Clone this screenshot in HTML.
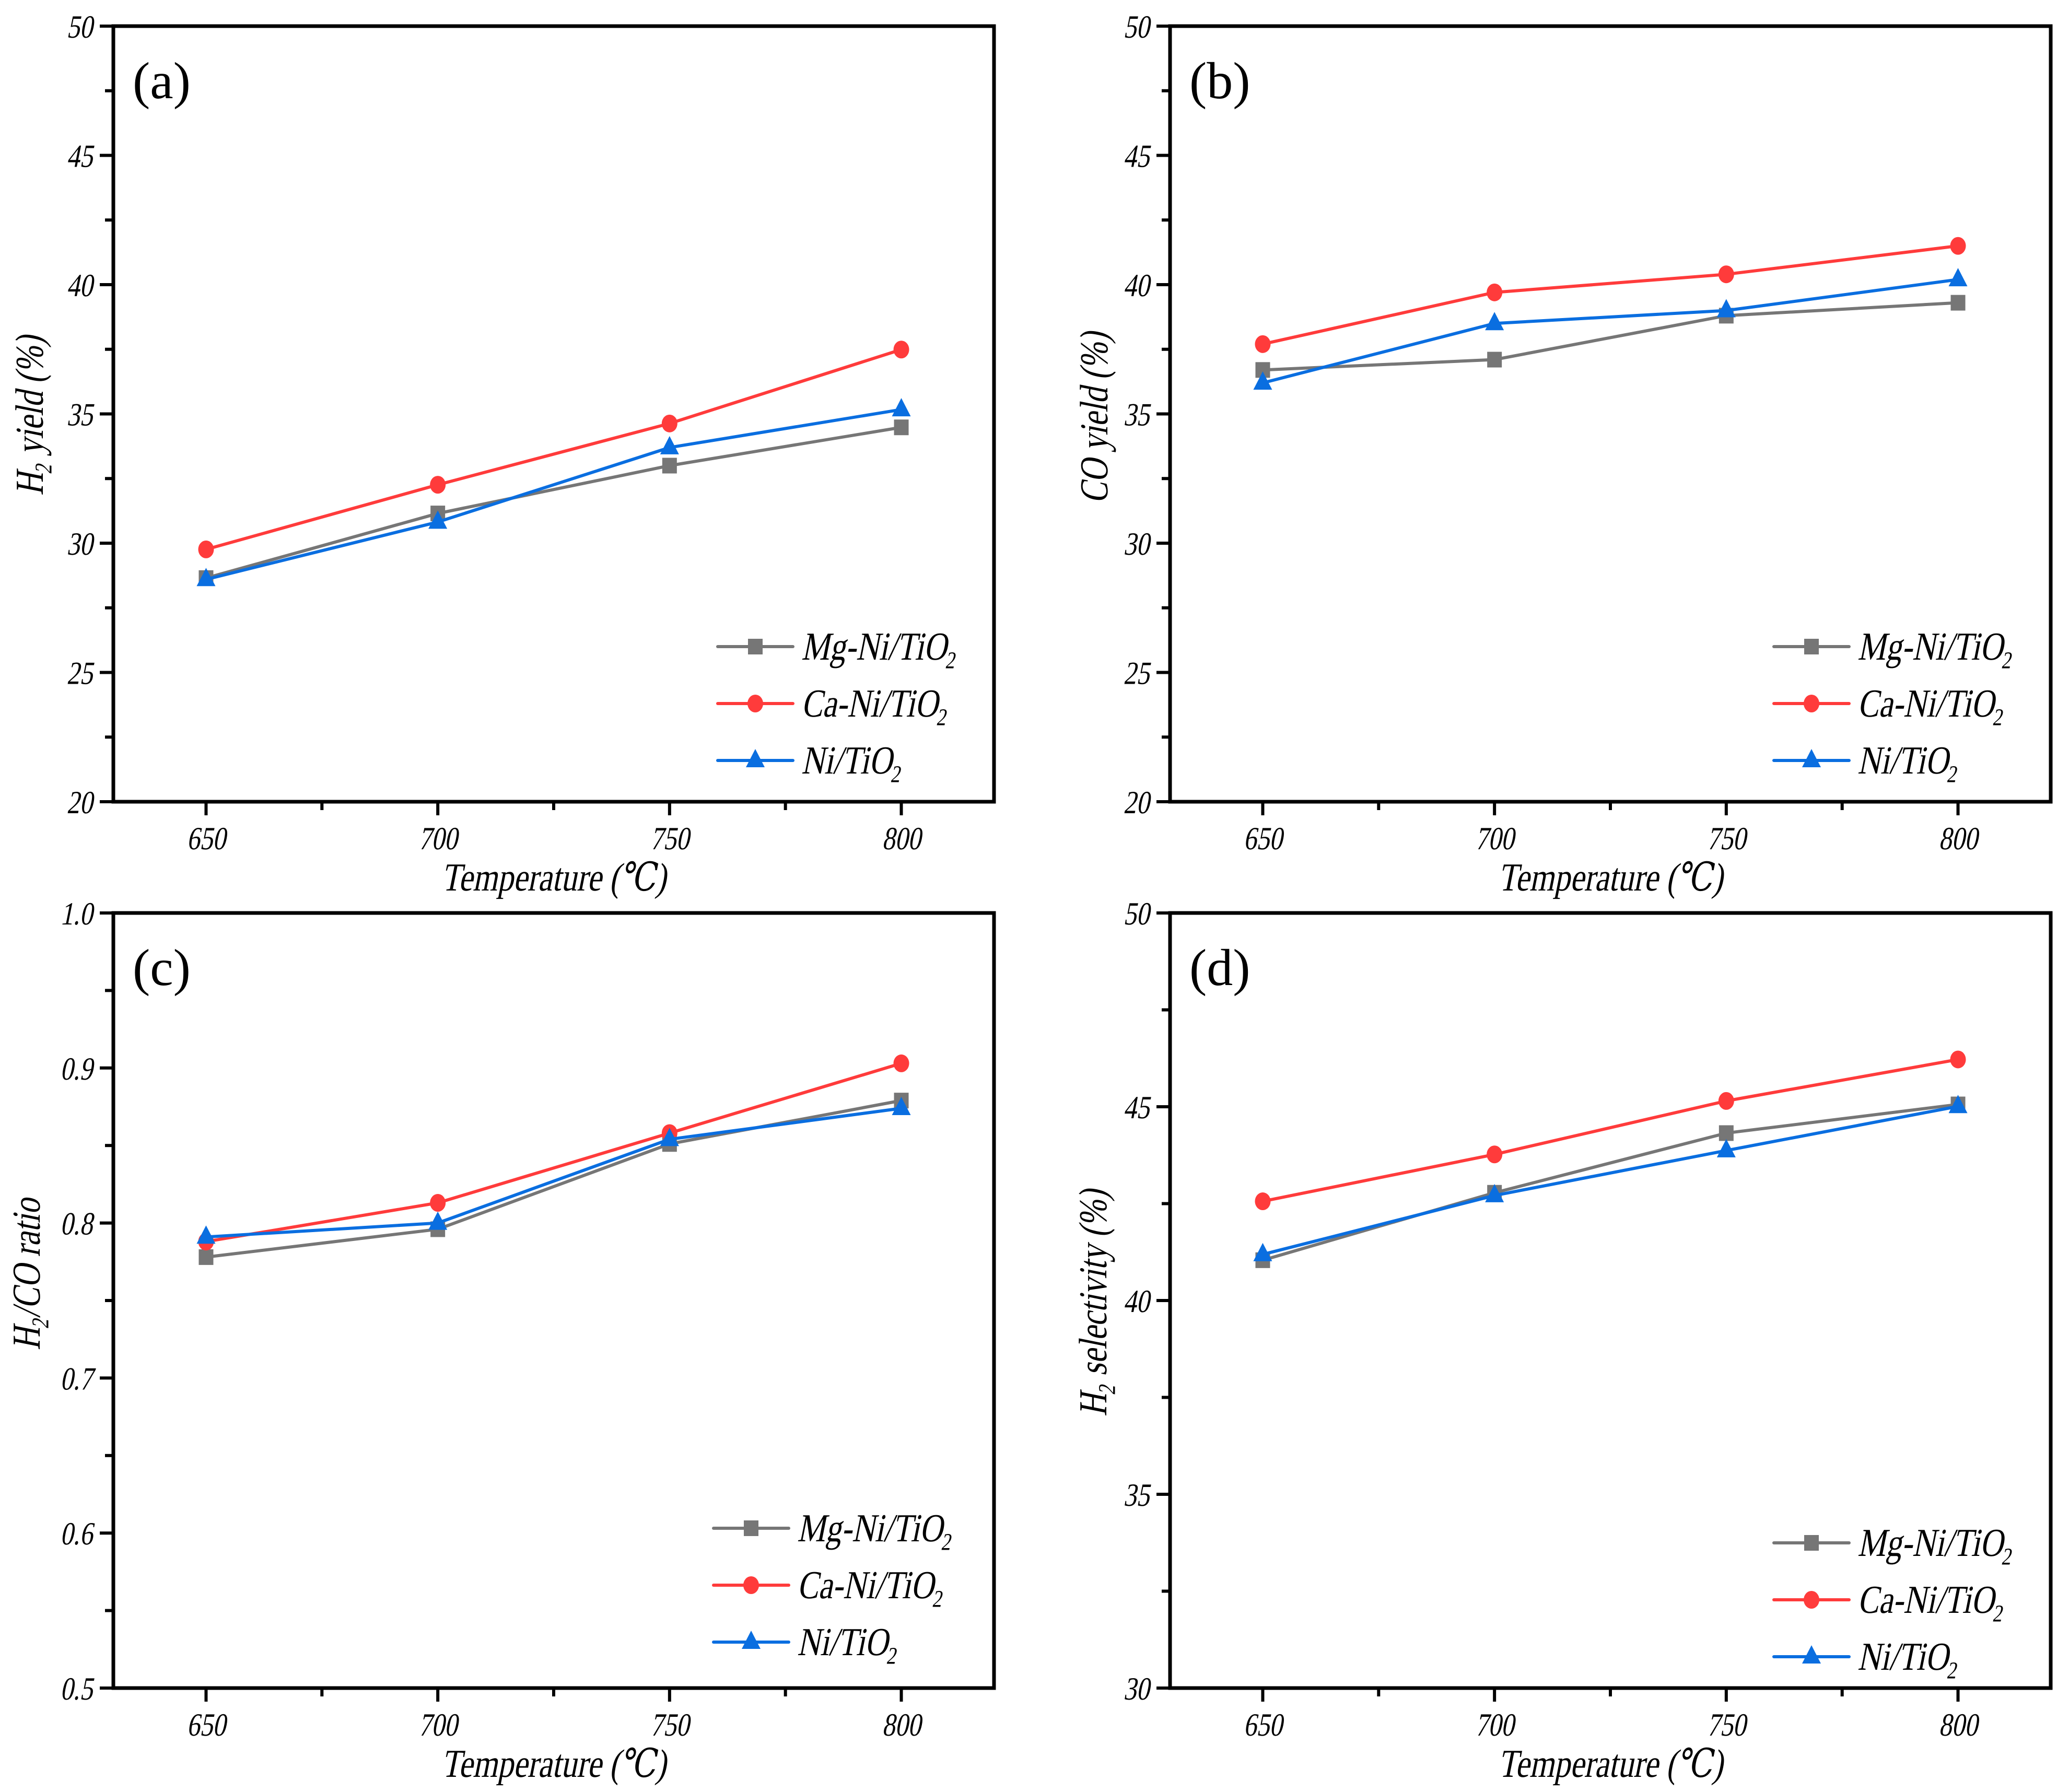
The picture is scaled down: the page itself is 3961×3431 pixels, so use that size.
<!DOCTYPE html>
<html><head><meta charset="utf-8"><style>
html,body{margin:0;padding:0;background:#fff}
svg{display:block}
text{font-family:"Liberation Serif","DejaVu Serif",serif}
</style></head><body>
<svg id="fig" xmlns="http://www.w3.org/2000/svg" width="3961" height="3431" viewBox="0 0 3961 3431">
<rect width="3961" height="3431" fill="#fff"/>
</svg>
<script>
const temps = [650, 700, 750, 800];
const seriesNames = ["Mg-Ni/TiO", "Ca-Ni/TiO", "Ni/TiO"];
const h2YieldMg = [28.65, 31.15, 33.0, 34.48];
const h2YieldCa = [29.76, 32.26, 34.63, 37.49];
const h2YieldNi = [28.6, 30.82, 33.7, 35.17];
const coYieldMg = [36.7, 37.1, 38.8, 39.3];
const coYieldCa = [37.7, 39.7, 40.4, 41.5];
const coYieldNi = [36.2, 38.5, 39.0, 40.2];
const ratioMg = [0.778, 0.796, 0.851, 0.879];
const ratioCa = [0.788, 0.813, 0.858, 0.903];
const ratioNi = [0.791, 0.800, 0.854, 0.874];
const selMg = [41.04, 42.78, 44.32, 45.06];
const selCa = [42.56, 43.77, 45.15, 46.22];
const selNi = [41.19, 42.71, 43.87, 45.01];
const xTicks = [650, 700, 750, 800];
const yTicksYield = [20, 25, 30, 35, 40, 45, 50];
const yTicksRatio = [0.5, 0.6, 0.7, 0.8, 0.9, 1.0];
const yTicksSel = [30, 35, 40, 45, 50];

const NS = "http://www.w3.org/2000/svg";
const svg = document.getElementById("fig");
const COLORS = ["#767676", "#ff3b3b", "#0a6ee0"];
const SX = 0.8;

function el(tag, attrs, parent) {
  const e = document.createElementNS(NS, tag);
  for (const k in attrs) e.setAttribute(k, attrs[k]);
  (parent || svg).appendChild(e);
  return e;
}
function label(parent, x, y, str, size, anchor, rot, italic, sub, sx) {
  const it = italic !== false;
  const t = el("text", {
    transform: "translate(" + x + "," + y + ")" + (rot ? " rotate(-90)" : "") + " scale(" + (sx || SX) + ",1)" + (it ? " skewX(-14)" : ""),
    "font-size": size, "text-anchor": anchor || "start",
    "font-style": "normal", fill: "#000"
  }, parent);
  if (sub) {
    const parts = str.split("\u2082");
    t.appendChild(document.createTextNode(parts[0]));
    for (let i = 1; i < parts.length; i++) {
      const s = el("tspan", {"font-size": Math.round(size * 0.6), dy: size * 0.22}, t);
      s.textContent = "2";
      const r = el("tspan", {dy: -size * 0.22}, t);
      r.textContent = parts[i];
    }
  } else t.textContent = str;
  return t;
}

function panel(cfg) {
  const g = el("g", {});
  
  
  const L = cfg.left, R = cfg.right, T = cfg.top, B = cfg.bottom;
  const xs = v => L + (v - 630) / (820 - 630) * (R - L);
  const ys = v => B - (v - cfg.ymin) / (cfg.ymax - cfg.ymin) * (B - T);
  const ax = el("g", {stroke: "#000", "stroke-width": 6}, g);
  
  
  xTicks.forEach(v => {
    el("line", {x1: xs(v), x2: xs(v), y1: B, y2: B + 26}, ax);
    label(g, xs(v), B + 91, String(v), 62, "middle");
  });
  [675, 725, 775].forEach(v => el("line", {x1: xs(v), x2: xs(v), y1: B, y2: B + 16}, ax));
  const yt = cfg.yticks;
  yt.forEach((v, i) => {
    el("line", {x1: L - 26, x2: L, y1: ys(v), y2: ys(v)}, ax);
    label(g, L - 40, ys(v) + 22, cfg.fmt(v), 62, "end");
    if (i < yt.length - 1) {
      const m = (v + yt[i + 1]) / 2;
      el("line", {x1: L - 16, x2: L, y1: ys(m), y2: ys(m)}, ax);
    }
  });
  el("rect", {x: L, y: T, width: R - L, height: B - T, fill: "none", stroke: "#000", "stroke-width": 7}, g);
  const xt = label(g, (L + R) / 2, B + 170, "Temperature (\u2103)", 76, "middle");
  
  
  const ytl = label(g, cfg.ytx, cfg.ytc, cfg.ytitle, 76, "middle", true, true, true);
  
  
  const pl = label(g, L + 37, T + 138, cfg.tag, 100, "start", false, false, false, 1);
  
  
  cfg.data.forEach((arr, si) => {
    const sg = el("g", {}, g);
    
    
    el("polyline", {points: arr.map((v, i) => xs(temps[i]) + "," + ys(v)).join(" "),
      fill: "none", stroke: COLORS[si], "stroke-width": 6, "stroke-linejoin": "round"}, sg);
    arr.forEach((v, i) => marker(sg, si, xs(temps[i]), ys(v)));
  });
  const lg = el("g", {}, g);
  
  
  seriesNames.forEach((n, si) => {
    const y = cfg.legY + si * 109;
    const lx = cfg.legX;
    el("line", {x1: lx, x2: lx + 144, y1: y, y2: y, stroke: COLORS[si], "stroke-width": 6, "stroke-linecap": "round"}, lg);
    marker(lg, si, lx + 72, y);
    label(lg, lx + 160, y + 25, n + "\u2082", 76, "start", false, true, true);
  });
}
function marker(parent, si, x, y) {
  let m;
  if (si === 0) m = el("rect", {x: x - 14, y: y - 15, width: 28, height: 30, fill: COLORS[0]}, parent);
  else if (si === 1) m = el("ellipse", {cx: x, cy: y, rx: 15, ry: 17, fill: COLORS[1]}, parent);
  else m = el("polygon", {points: (x) + "," + (y - 22) + " " + (x + 18) + "," + (y + 13) + " " + (x - 18) + "," + (y + 13), fill: COLORS[2]}, parent);
  
  
}
const f0 = v => String(v);
const f1 = v => v.toFixed(1);
panel({name: "panel-a-h2-yield", tag: "(a)", left: 217, right: 1903, top: 50, bottom: 1535, ymin: 20, ymax: 50,
  yticks: yTicksYield, fmt: f0, ytitle: "H\u2082 yield (%)", ytx: 82, ytc: 796, legX: 1374, legY: 1238,
  data: [h2YieldMg, h2YieldCa, h2YieldNi]});
panel({name: "panel-b-co-yield", tag: "(b)", left: 2240, right: 3926, top: 50, bottom: 1535, ymin: 20, ymax: 50,
  yticks: yTicksYield, fmt: f0, ytitle: "CO yield (%)", ytx: 2120, ytc: 800, legX: 3396, legY: 1238,
  data: [coYieldMg, coYieldCa, coYieldNi]});
panel({name: "panel-c-ratio", tag: "(c)", left: 217, right: 1903, top: 1748, bottom: 3232, ymin: 0.5, ymax: 1.0,
  yticks: yTicksRatio, fmt: f1, ytitle: "H\u2082/CO ratio", ytx: 76, ytc: 2440, legX: 1366, legY: 2926,
  data: [ratioMg, ratioCa, ratioNi]});
panel({name: "panel-d-selectivity", tag: "(d)", left: 2240, right: 3926, top: 1748, bottom: 3232, ymin: 30, ymax: 50,
  yticks: yTicksSel, fmt: f0, ytitle: "H\u2082 selectivity (%)", ytx: 2118, ytc: 2495, legX: 3396, legY: 2954,
  data: [selMg, selCa, selNi]});
</script>
</body></html>
